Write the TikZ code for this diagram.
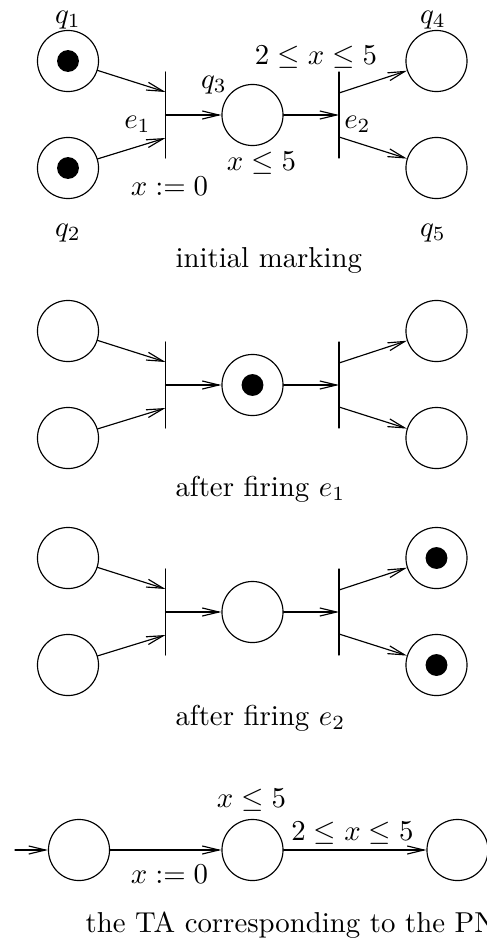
\documentclass[tikz,border=0pt]{standalone}
\usetikzlibrary{arrows.meta,calc}
\begin{document}
\begin{tikzpicture}[x=0.3472pt, y=-0.3472pt, line join=round, line cap=round, >={Straight Barb[length=5.8pt,width=2.8pt]}]
		\tikzset{place/.style={draw, circle, minimum size=21.2pt, inner sep=0pt},
			token/.style={fill=black, circle, minimum size=7.6pt, inner sep=0pt},
			trans/.style={minimum width=0pt, minimum height=29.5pt, inner sep=0pt},
			caption/.style={anchor=base west, inner sep=0pt}}
		\useasboundingbox (0,0) rectangle (486,947);
		\foreach \s/\m in {a/115,b/385,c/612}{
			\node[place] (q1\s) at (68,\m-54) {};
			\node[place] (q2\s) at (68,\m+53) {};
			\node[place] (q3\s) at (252.5,\m) {};
			\node[place] (q4\s) at (436.5,\m-54) {};
			\node[place] (q5\s) at (436.5,\m+53) {};
			\node[trans] (e1\s) at (165.5,\m) {};
			\node[trans] (e2\s) at (339,\m) {};
			\draw (e1\s.north)--(e1\s.south) (e2\s.north)--(e2\s.south);
			\draw[->] (q1\s)--($(e1\s)+(0,-23)$);
			\draw[->] (q2\s)--($(e1\s)+(0,23)$);
			\draw[->] (e1\s.center)--(q3\s);
			\draw[->] (q3\s)--(e2\s.center);
			\draw[->] ($(e2\s)+(0,-22)$)--(q4\s);
			\draw[->] ($(e2\s)+(0,22)$)--(q5\s);
		}
		\foreach \t in {q1a,q2a,q3b,q4c,q5c}
			\node[token] (tok\t) at (\t) {};
		\foreach \i/\x/\y in {1/68/20,2/68/233,3/214/85,4/433/20,5/433/233}
			\node (lq\i) at (\x,\y) {$q_\i$};
		\node (le1) at (137.5,124) {$e_1$};
		\node (le2) at (357.5,124) {$e_2$};
		\node (reset) at (169.5,186) {$x:=0$};
		\node (inv) at (261.5,163) {$x\leq 5$};
		\node (guard) at (316,57) {$2\leq x\leq 5$};
		\node[caption] (capa) at (175,267) {initial marking};
		\node[caption] (capb) at (175,496) {after firing $e_1$};
		\node[caption] (capc) at (175,725) {after firing $e_2$};
		\coordinate (init) at (15,850);
		\node[place] (s1) at (79,850) {};
		\node[place] (s2) at (252.5,850) {};
		\node[place] (s3) at (457.5,850) {};
		\draw[->] (init)--(s1);
		\draw[->] (s1)--(s2);
		\draw[->] (s2)--(s3);
		\node (tinv) at (251.5,800) {$x\leq 5$};
		\node (tguard) at (352.5,833) {$2\leq x\leq 5$};
		\node (treset) at (169.5,874) {$x:=0$};
		\node[caption] (capd) at (85,932) {the TA corresponding to the PN};
\end{tikzpicture}
\end{document}
